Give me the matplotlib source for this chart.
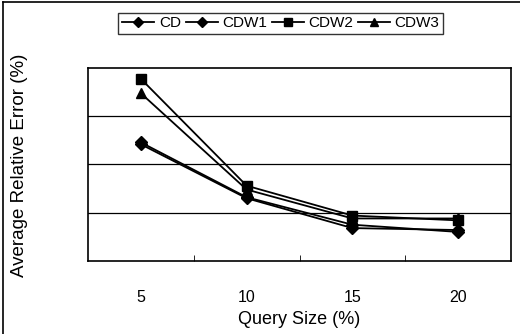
import matplotlib.pyplot as plt
import matplotlib.lines as mlines

plt.rcParams['font.family'] = ['Liberation Sans', 'DejaVu Sans']

# query sizes (%) and average relative error per method
query_sizes = ['5', '10', '15', '20']
cd = [12.1, 6.5, 3.4, 3.2]
cdw1 = [12.3, 6.6, 3.75, 3.0]
cdw2 = [18.9, 7.8, 4.7, 4.2]
cdw3 = [17.4, 7.4, 4.4, 4.4]

fig = plt.figure(figsize=(5.2, 3.34), dpi=100)
ax = fig.add_axes([0.169, 0.219, 0.814, 0.577])

x = range(len(query_sizes))
series = [('CD', cd, 'D', 6), ('CDW1', cdw1, 'D', 6),
          ('CDW2', cdw2, 's', 7), ('CDW3', cdw3, '^', 7)]
for name, vals, mk, ms in series:
    ax.plot(x, vals, color='black', lw=1.3, marker=mk, markersize=ms,
            markerfacecolor='black', markeredgecolor='black', label=name)

ax.set_xlim(-0.5, 3.5)
ax.set_ylim(0, 20)
ax.set_yticks([5, 10, 15])
ax.yaxis.grid(True, color='black', lw=0.9)
ax.tick_params(axis='y', length=0, labelleft=False)

ax.set_xticks(list(x))
ax.set_xticklabels(query_sizes, fontsize=11.5)
ax.tick_params(axis='x', length=0, pad=21)
ax.set_xticks([0.5, 1.5, 2.5], minor=True)
ax.tick_params(axis='x', which='minor', direction='in', length=4, color='black')
for s in ax.spines.values():
    s.set_color('black')
    s.set_linewidth(1.2)

ax.set_xlabel('Query Size (%)', fontsize=13, labelpad=4)
fig.text(0.038, 0.506, 'Average Relative Error (%)', rotation=90,
         ha='center', va='center', fontsize=13.5)

leg = fig.legend(loc='center', bbox_to_anchor=(0.540, 0.93), ncol=4,
                 fontsize=11, frameon=True, fancybox=False, edgecolor='black',
                 handlelength=2.1, columnspacing=0.3, handletextpad=0.3,
                 borderpad=0.25, borderaxespad=0, markerscale=0.9)
leg.get_frame().set_linewidth(1.0)

# partial figure border (left and top)
fig.add_artist(mlines.Line2D([0.005, 0.005], [0.0, 0.994], color='black', lw=1.2,
                             transform=fig.transFigure))
fig.add_artist(mlines.Line2D([0.005, 1.0], [0.994, 0.994], color='black', lw=1.2,
                             transform=fig.transFigure))

fig.savefig('out.png', dpi=100)
